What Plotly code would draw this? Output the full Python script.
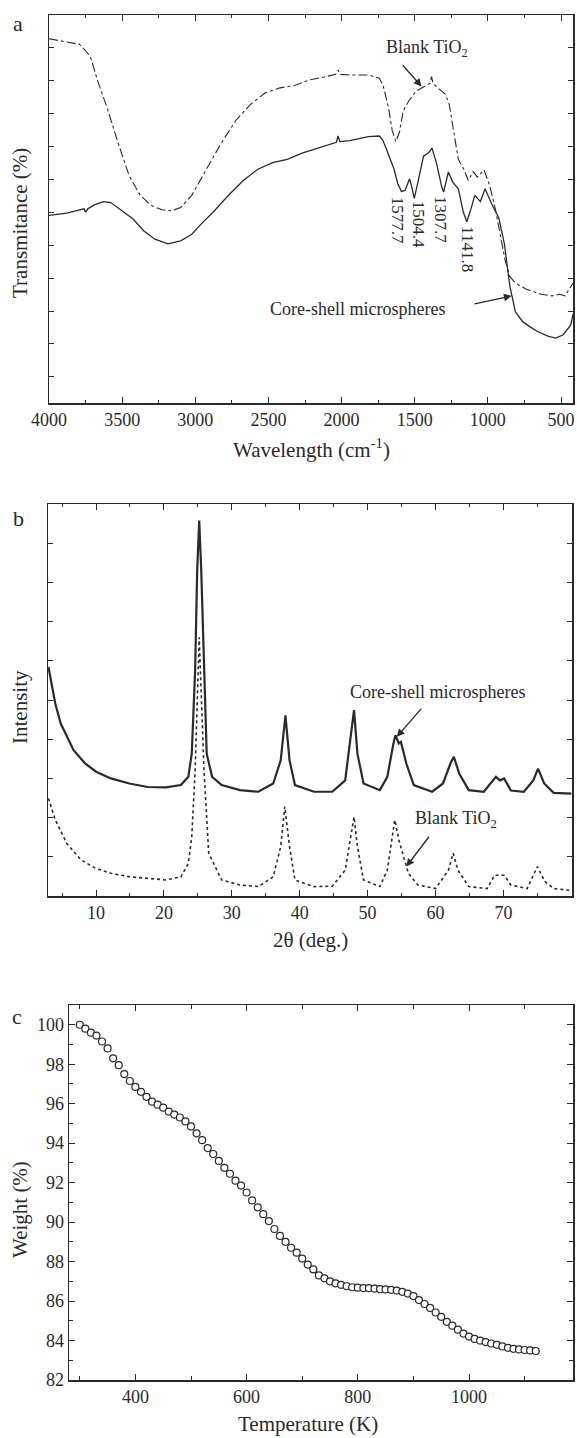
import plotly.graph_objects as go

W, H = 577, 1438
FONT = "Liberation Serif"
INK = "#2a2a2a"

# ---------------- Panel a: FTIR ----------------
ftir_blank_wn = [4000, 3791, 3741, 3716, 3666, 3603, 3527, 3452, 3376, 3301, 3226, 3163, 3100, 3024,
                 2924, 2823, 2723, 2622, 2521, 2421, 2320, 2220, 2119, 2040, 2024, 2010, 1943, 1817,
                 1742, 1717, 1679, 1654, 1629, 1604, 1579, 1541, 1491, 1440, 1395, 1385, 1375, 1340,
                 1290, 1264, 1227, 1202, 1164, 1134, 1101, 1071, 1026, 988, 950, 912, 882, 850, 812,
                 736, 636, 560, 510, 472, 440, 418]
ftir_blank_t = [102.6, 100.9, 98.5, 97.0, 89.6, 81.7, 70.9, 61.0, 55.1, 52.0, 50.7, 50.4, 51.4, 55.1,
                63.0, 70.9, 77.8, 82.7, 86.2, 87.7, 88.4, 90.1, 91.0, 91.8, 93.1, 91.8, 91.6, 91.6,
                90.6, 88.6, 81.7, 74.8, 71.4, 74.3, 80.7, 83.7, 86.7, 88.1, 89.1, 91.1, 89.1, 87.6,
                85.7, 82.7, 72.9, 66.0, 63.0, 59.6, 62.3, 60.6, 62.8, 58.1, 51.2, 42.3, 35.4, 30.5, 28.5,
                26.6, 25.1, 24.6, 25.1, 24.6, 27.0, 28.5]

ftir_cs_wn = [4000, 3879, 3791, 3760, 3749, 3735, 3691, 3628, 3578, 3502, 3427, 3351, 3276, 3188, 3100,
              3024, 2962, 2874, 2773, 2672, 2572, 2471, 2371, 2270, 2169, 2069, 2035, 2024, 2012, 1943,
              1817, 1742, 1717, 1692, 1666, 1641, 1616, 1591, 1566, 1535, 1520, 1503, 1478, 1440,
              1403, 1382, 1352, 1315, 1302, 1270, 1240, 1202, 1169, 1144, 1114, 1089, 1051, 1019,
              976, 925, 887, 850, 812, 761, 711, 661, 585, 535, 485, 434, 418]
ftir_cs_t = [49.0, 49.7, 50.7, 51.0, 50.0, 51.0, 52.2, 53.2, 52.9, 50.4, 48.0, 44.3, 41.8, 40.4, 41.3,
             43.3, 46.3, 50.2, 55.1, 59.6, 63.0, 65.0, 66.0, 67.9, 69.4, 70.9, 71.2, 73.1, 71.4, 71.7,
             72.9, 73.1, 71.7, 68.9, 66.0, 63.0, 58.6, 56.3, 56.6, 60.1, 57.6, 54.2, 59.1, 67.0,
             68.1, 69.4, 65.0, 57.6, 56.1, 62.2, 59.1, 57.1, 50.2, 47.1, 51.2, 55.1, 53.2, 57.1,
             52.7, 48.2, 40.4, 27.6, 19.8, 16.7, 15.2, 13.8, 12.3, 11.8, 12.8, 15.7, 19.0]

peak_labels = ["1577.7", "1504.4", "1307.7", "1141.8"]
peak_label_wn = [1621, 1473, 1322, 1138]
peak_label_t = [47.7, 46.3, 47.7, 38.9]

# ---------------- Panel b: XRD ----------------
xrd_cs_2t = [3.0, 3.5, 4.0, 4.8, 5.7, 6.7, 8.4, 10.0, 12.2, 14.9, 17.6, 20.3, 22.5, 23.6, 24.1, 24.6,
             24.9, 25.2, 25.5, 25.9, 26.3, 27.1, 28.5, 31.2, 33.9, 36.1, 37.2, 37.9, 38.5, 39.3, 42.1,
             44.8, 46.7, 47.5, 48.0, 48.5, 49.4, 51.8, 52.9, 53.8, 54.1, 54.6, 54.9, 55.7, 56.8, 59.5,
             61.1, 62.2, 62.7, 63.5, 64.9, 67.1, 68.2, 68.9, 69.5, 70.1, 71.1, 73.0, 74.4, 75.1, 76.0,
             77.4, 80.0]
xrd_cs_i = [58.4, 54.2, 49.1, 44.0, 40.6, 37.2, 33.8, 31.7, 30.0, 28.7, 27.8, 27.7, 28.3, 30.4, 36.3, 57.6,
            83.0, 95.8, 83.0, 57.6, 36.3, 30.4, 28.3, 27.0, 26.6, 28.7, 34.6, 46.1, 34.6, 28.3, 26.6,
            26.6, 29.5, 40.6, 47.4, 36.3, 28.7, 27.0, 30.4, 38.9, 41.0, 38.9, 39.3, 33.8, 28.3, 26.6,
            28.7, 33.8, 35.5, 31.2, 27.0, 26.6, 29.1, 30.4, 29.5, 30.0, 26.9, 26.6, 29.5, 32.5, 28.7,
            26.3, 26.1]

xrd_blank_2t = [3.0, 4.0, 5.7, 7.8, 10.0, 12.2, 14.9, 17.6, 20.3, 22.5, 23.6, 24.1, 24.6, 24.9, 25.2,
                25.9, 26.6, 28.5, 31.2, 33.9, 36.1, 37.2, 37.8, 38.5, 39.3, 42.1, 44.8, 46.7, 47.4,
                48.0, 48.5, 49.4, 51.8, 52.9, 53.7, 54.0, 54.6, 55.2, 56.0, 57.4, 60.0, 61.9, 62.6,
                63.3, 64.9, 67.6, 68.7, 70.1, 71.1, 73.5, 75.0, 76.1, 77.4, 80.0]
xrd_blank_i = [24.9, 19.4, 13.4, 9.2, 7.0, 5.8, 4.9, 4.5, 4.1, 4.9, 8.3, 15.1, 32.1, 49.0, 66.0,
               32.1, 10.9, 4.1, 2.8, 2.4, 4.9, 12.6, 22.8, 12.6, 4.1, 2.4, 2.5, 6.6, 13.4,
               20.2, 12.6, 4.1, 2.4, 6.6, 16.0, 19.4, 14.3, 10.9, 5.8, 2.8, 1.9, 6.6, 10.9,
               6.6, 2.4, 1.9, 5.3, 5.3, 2.8, 1.9, 7.5, 3.7, 1.9, 1.4]

# ---------------- Panel c: TGA ----------------
tga_temp = list(range(300, 1121, 10))
tga_weight = [100.0, 99.8, 99.6, 99.45, 99.15, 98.8, 98.3, 97.95, 97.5, 97.15,
              96.85, 96.6, 96.35, 96.1, 95.95, 95.8, 95.6, 95.45, 95.3, 95.1,
              94.85, 94.5, 94.15, 93.75, 93.45, 93.1, 92.75, 92.45, 92.1, 91.85,
              91.5, 91.1, 90.75, 90.4, 90.05, 89.65, 89.3, 89.0, 88.7, 88.45,
              88.15, 87.85, 87.6, 87.3, 87.15, 87.0, 86.9, 86.82, 86.75, 86.7,
              86.68, 86.66, 86.65, 86.63, 86.6, 86.59, 86.57, 86.53, 86.47, 86.38,
              86.25, 86.05, 85.85, 85.65, 85.42, 85.2, 84.95, 84.75, 84.55, 84.35,
              84.2, 84.08, 84.0, 83.92, 83.85, 83.78, 83.7, 83.63, 83.58, 83.55,
              83.52, 83.5, 83.47]


def px(x):
    return x / W


def py(y):
    return 1 - y / H


fig = go.Figure()

fig.add_trace(go.Scatter(x=ftir_blank_wn, y=ftir_blank_t, mode="lines",
                         line=dict(color=INK, width=1.1, dash="dashdot"),
                         xaxis="x", yaxis="y", showlegend=False))
fig.add_trace(go.Scatter(x=ftir_cs_wn, y=ftir_cs_t, mode="lines",
                         line=dict(color=INK, width=1.3),
                         xaxis="x", yaxis="y", showlegend=False))

fig.add_trace(go.Scatter(x=xrd_blank_2t, y=xrd_blank_i, mode="lines",
                         line=dict(color=INK, width=1.6, dash="dot"),
                         xaxis="x2", yaxis="y2", showlegend=False))
fig.add_trace(go.Scatter(x=xrd_cs_2t, y=xrd_cs_i, mode="lines",
                         line=dict(color=INK, width=2.2),
                         xaxis="x2", yaxis="y2", showlegend=False))

fig.add_trace(go.Scatter(x=tga_temp, y=tga_weight, mode="markers",
                         marker=dict(symbol="circle", size=7, color="white",
                                     line=dict(color=INK, width=1.2)),
                         xaxis="x3", yaxis="y3", showlegend=False))

axis_common = dict(showline=True, linecolor=INK, linewidth=1.5, mirror="ticks",
                   ticks="inside", tickcolor=INK, tickwidth=1, showgrid=False, zeroline=False,
                   automargin=False,
                   tickfont=dict(family=FONT, size=18, color=INK))

fig.update_layout(
    template="none",
    width=W, height=H,
    margin=dict(l=0, r=0, t=0, b=0, pad=0),
    paper_bgcolor="white", plot_bgcolor="white",
    font=dict(family=FONT, color=INK),
    showlegend=False,
    hovermode=False,
    xaxis=dict(domain=[px(49), px(573)], anchor="y", range=[4000, 418],
               tick0=0, dtick=500, ticklen=6,
               minor=dict(ticks="inside", dtick=250, tick0=0, ticklen=3, tickcolor=INK),
               **axis_common),
    yaxis=dict(domain=[py(403), py(15)], anchor="x", range=[-7.9, 109.8],
               tick0=0, dtick=10, ticklen=5, showticklabels=False,
               **axis_common),
    xaxis2=dict(domain=[px(48), px(572)], anchor="y2", range=[2.93, 80.1],
                tick0=0, dtick=10, ticklen=6,
                minor=dict(ticks="inside", dtick=5, tick0=0, ticklen=3, tickcolor=INK),
                **axis_common),
    yaxis2=dict(domain=[py(896), py(504)], anchor="x2", range=[0, 100],
                tick0=0, dtick=10, ticklen=5, showticklabels=False,
                **axis_common),
    xaxis3=dict(domain=[px(69), px(573)], anchor="y3", range=[280.6, 1187],
                tick0=0, dtick=200, ticklen=6,
                minor=dict(ticks="inside", dtick=100, tick0=0, ticklen=4, tickcolor=INK),
                **axis_common),
    yaxis3=dict(domain=[py(1380), py(1005)], anchor="x3", range=[82, 101],
                tick0=0, dtick=2, ticklen=6,
                minor=dict(ticks="inside", dtick=1, tick0=0, ticklen=4, tickcolor=INK),
                **axis_common),
)

lab_font = dict(family=FONT, size=18, color=INK)
title_font = dict(family=FONT, size=21, color=INK)
ann = []


def paper_text(text, x, y, font, angle=0):
    ann.append(dict(text=text, x=px(x), y=py(y), xref="paper", yref="paper",
                    xanchor="center", yanchor="middle", textangle=angle,
                    showarrow=False, font=font))


def data_text(text, x, y, ax_name, font, angle=0):
    ann.append(dict(text=text, x=x, y=y, xref=ax_name[0], yref=ax_name[1],
                    xanchor="center", yanchor="middle", textangle=angle,
                    showarrow=False, font=font))


def data_arrow(x, y, tx, ty, ax_name):
    ann.append(dict(text="", x=x, y=y, ax=tx, ay=ty, xref=ax_name[0], yref=ax_name[1],
                    axref=ax_name[0], ayref=ax_name[1], showarrow=True, arrowhead=2,
                    arrowsize=1.2, arrowwidth=1.3, arrowcolor=INK))


letter_font = dict(family=FONT, size=22, color=INK)
paper_text("a", 18, 23, letter_font)
paper_text("b", 18, 518, letter_font)
paper_text("c", 17, 1016, letter_font)

paper_text("Transmitance (%)", 20, 223, title_font, -90)
paper_text("Wavelength (cm<sup>-1</sup>)", 311, 448, title_font)
paper_text("Intensity", 20, 707, title_font, -90)
paper_text("2θ (deg.)", 310, 940, title_font)
paper_text("Weight (%)", 20, 1210, title_font, -90)
paper_text("Temperature (K)", 308, 1424, title_font)

A = ("x", "y")
data_text("Blank TiO<sub>2</sub>", 1415, 99.5, A, lab_font)
data_arrow(1453, 88.1, 1591, 95.0, A)
data_text("Core-shell microspheres", 1893, 20.7, A, lab_font)
data_arrow(837, 24.6, 1101, 22.1, A)
for t, wx, wy in zip(peak_labels, peak_label_wn, peak_label_t):
    data_text(t, wx, wy, A, dict(family=FONT, size=17, color=INK), 90)

B = ("x2", "y2")
data_text("Core-shell microspheres", 60.3, 52.0, B, lab_font)
data_arrow(54.3, 40.6, 58.1, 48.2, B)
data_text("Blank TiO<sub>2</sub>", 63.0, 19.4, B, lab_font)
data_arrow(55.7, 7.5, 59.2, 15.5, B)

fig.update_layout(annotations=ann)
fig.write_html("out.html",
               config={"displayModeBar": False, "staticPlot": True},
               post_script="document.body.style.margin='0px';document.body.style.overflow='hidden';")
